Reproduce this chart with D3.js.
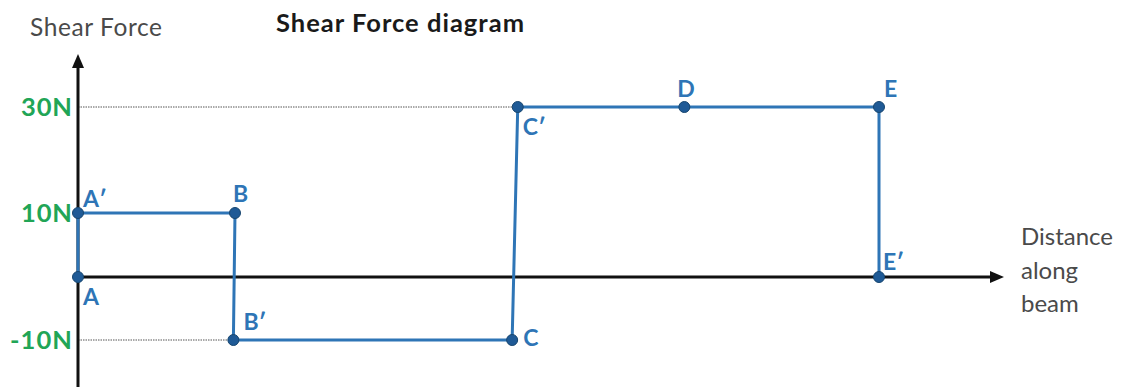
<!DOCTYPE html>
<html><head><meta charset="utf-8">
<script src="https://cdn.jsdelivr.net/npm/d3@7"></script>
<style>html,body{margin:0;padding:0;background:#fff;}svg{display:block;}</style>
</head><body>
<script>
// ---- data ----
const pointNames = ["A", "A′", "B", "B′", "C", "C′", "D", "E", "E′"];
const distance   = [0, 0, 1.96, 1.94, 5.42, 5.49, 7.57, 10, 10];
const shear      = [0, 10, 10, -10, -10, 30, 30, 30, 0];
const yTickValues = [30, 10, -10];
const yTickLabels = ["30N", "10N", "-10N"];
const guideLevels = [30, -10];            // dotted guide lines
const guideEndPoint = ["C′", "B′"];
const xAxisTitle = ["Distance", "along", "beam"];
// label placement relative to point: [dx, dy]
const labelOffsets = {
  "A":[5,28], "A′":[5,-6], "B":[-2,-11], "B′":[10,-10],
  "C":[11,6], "C′":[5,28], "D":[-7,-10], "E":[5,-10], "E′":[4,-7]
};

const W = 1123, H = 387;
const svg = d3.select("body").append("svg").attr("width", W).attr("height", H);

// diagram is not to scale: piecewise-linear scale on shear
const x = d3.scaleLinear().domain([0, 10]).range([78, 879]);
const y = d3.scaleLinear().domain([-10, 0, 10, 30]).range([340, 277, 213, 107]);

const pts = pointNames.map((n, i) => ({name: n, d: distance[i], v: shear[i]}));
const byName = Object.fromEntries(pts.map(p => [p.name, p]));

const blue = "#2e75b6", dot = "#1f5a96", green = "#21a556";
const font = "Lato, 'Open Sans', sans-serif";

function fit(sel, w) { sel.attr("textLength", w).attr("lengthAdjust", "spacing"); return sel; }

// titles
fit(svg.append("text").attr("x", 30).attr("y", 36).attr("font-family", font)
  .attr("font-size", 24.5).attr("fill", "#4a4a4a").text("Shear Force"), 132);
fit(svg.append("text").attr("x", 276).attr("y", 32).attr("font-family", font)
  .attr("font-size", 25.5).attr("font-weight", "bold").attr("fill", "#1a1a1a").text("Shear Force diagram"), 248);

// dotted guides
guideLevels.forEach((lv, i) => {
  svg.append("line").attr("x1", x(0)).attr("x2", x(byName[guideEndPoint[i]].d))
    .attr("y1", y(lv)).attr("y2", y(lv))
    .attr("stroke", "#555").attr("stroke-width", 1).attr("stroke-dasharray", "1.5,1");
});

// axes
const axisColor = "#111";
svg.append("line").attr("x1", x(0)).attr("x2", x(0)).attr("y1", 66).attr("y2", H)
  .attr("stroke", axisColor).attr("stroke-width", 3);
svg.append("path").attr("d", `M${x(0)},54 L${x(0)-6},68 L${x(0)+6},68 Z`).attr("fill", axisColor);
svg.append("line").attr("x1", x(0)).attr("x2", 992).attr("y1", y(0)).attr("y2", y(0))
  .attr("stroke", axisColor).attr("stroke-width", 3);
svg.append("path").attr("d", `M1004,${y(0)} L990,${y(0)-6} L990,${y(0)+6} Z`).attr("fill", axisColor);

// y tick labels via d3 axis
const yAxis = d3.axisLeft(y).tickValues(yTickValues).tickSize(0).tickPadding(6)
  .tickFormat((d, i) => yTickLabels[i]);
const gy = svg.append("g").attr("transform", `translate(${x(0)},0)`).call(yAxis);
gy.select(".domain").remove();
gy.selectAll("text").attr("font-family", font).attr("font-size", 25.5).attr("font-weight", "bold")
  .attr("fill", green).attr("dy", "0.34em")
  .each(function(d, i) { fit(d3.select(this), [51, 51, 62][i]); });

// x axis label
xAxisTitle.forEach((t, i) =>
  svg.append("text").attr("font-family", font).attr("font-size", 24).attr("fill", "#4a4a4a")
    .attr("x", 1021).attr("y", 245 + i * 33.5).text(t));

// shear line
svg.append("path").datum(pts)
  .attr("d", d3.line().x(p => x(p.d)).y(p => y(p.v)))
  .attr("fill", "none").attr("stroke", blue).attr("stroke-width", 3);

// points
svg.selectAll("circle.pt").data(pts).join("circle")
  .attr("class", "pt").attr("cx", p => x(p.d)).attr("cy", p => y(p.v)).attr("r", 5.5)
  .attr("fill", dot).attr("stroke", "#17466f").attr("stroke-width", 1);

// labels
svg.selectAll("text.lbl").data(pts).join("text").attr("class", "lbl")
  .attr("x", p => x(p.d) + labelOffsets[p.name][0])
  .attr("y", p => y(p.v) + labelOffsets[p.name][1])
  .attr("font-family", font).attr("font-size", 23).attr("font-weight", "bold")
  .attr("fill", blue).text(p => p.name);
</script>
</body></html>
